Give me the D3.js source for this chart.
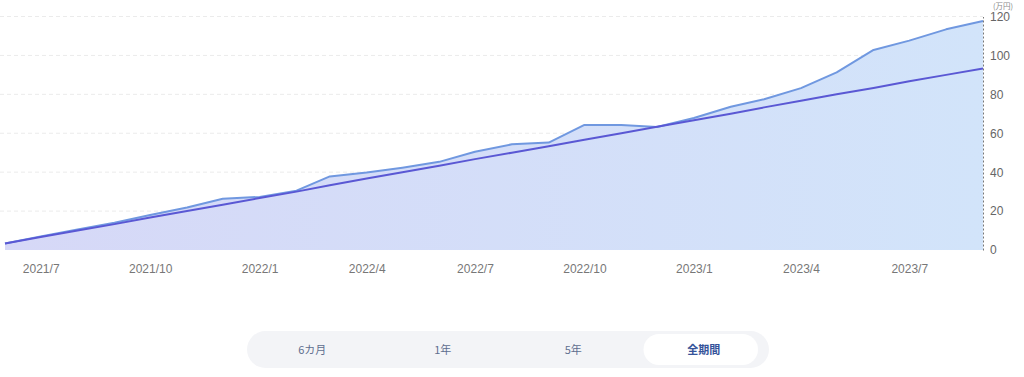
<!DOCTYPE html>
<html>
<head>
<meta charset="utf-8">
<script src="https://cdn.jsdelivr.net/npm/d3@7"></script>
<style>
  body { margin: 0; background: #fff; font-family: "Noto Sans CJK JP", "Noto Sans", sans-serif; }
</style>
</head>
<body>
<div id="chart"></div>
<script>
// Define constants
const WIDTH = 1024;
const HEIGHT = 377;

// Data (万円), monthly from 2021/6 to 2023/9
const months = ["2021-06", "2021-07", "2021-08", "2021-09", "2021-10", "2021-11", "2021-12",
  "2022-01", "2022-02", "2022-03", "2022-04", "2022-05", "2022-06", "2022-07", "2022-08",
  "2022-09", "2022-10", "2022-11", "2022-12", "2023-01", "2023-02", "2023-03", "2023-04",
  "2023-05", "2023-06", "2023-07", "2023-08", "2023-09"];
const valuation = [3.3, 7.0, 10.5, 14.0, 18.0, 21.8, 26.3, 27.3, 30.5, 37.8, 39.8, 42.3, 45.3, 50.5,
  54.3, 55.2, 64.3, 64.3, 63.2, 67.8, 73.6, 77.5, 83.2, 91.3, 102.8, 107.6, 113.4, 117.7];
const invested = [3.3, 6.7, 10.0, 13.3, 16.7, 20.0, 23.3, 26.7, 30.0, 33.3, 36.7, 40.0, 43.3, 46.7,
  50.0, 53.3, 56.7, 60.0, 63.3, 66.7, 70.0, 73.3, 76.7, 80.0, 83.3, 86.7, 90.0, 93.3];
const xTickMonths = ["2021-07", "2021-10", "2022-01", "2022-04", "2022-07", "2022-10", "2023-01", "2023-04", "2023-07"];
const yTicks = [0, 20, 40, 60, 80, 100, 120];
const periods = ["6カ月", "1年", "5年", "全期間"];
const selectedPeriod = "全期間";

const parseMonth = d3.timeParse("%Y-%m");
const dates = months.map(parseMonth);

function drawChart() {
  const svg = d3.select("#chart")
    .append("svg")
    .attr("width", WIDTH)
    .attr("height", HEIGHT);

  const x = d3.scaleTime()
    .domain(d3.extent(dates))
    .range([5, 983]);

  const y = d3.scaleLinear()
    .domain([0, 120])
    .range([250, 16.5]);

  // Gradient for area
  const defs = svg.append("defs");
  const grad = defs.append("linearGradient")
    .attr("id", "areaGrad")
    .attr("x1", "0%").attr("x2", "100%")
    .attr("y1", "0%").attr("y2", "0%");
  grad.append("stop").attr("offset", "0%").attr("stop-color", "#d6d8f7");
  grad.append("stop").attr("offset", "100%").attr("stop-color", "#d2e4fa");

  // Grid lines
  svg.append("g")
    .selectAll("line")
    .data(yTicks.filter(d => d > 0))
    .enter()
    .append("line")
    .attr("x1", 0)
    .attr("x2", 983)
    .attr("y1", d => y(d))
    .attr("y2", d => y(d))
    .attr("stroke", "#ebebeb")
    .attr("stroke-dasharray", "4,3");

  // Area under valuation
  const area = d3.area()
    .x((d, i) => x(dates[i]))
    .y0(y(0))
    .y1(d => y(d));

  svg.append("path")
    .datum(valuation)
    .attr("d", area)
    .attr("fill", "url(#areaGrad)");

  // Valuation line
  const line = d3.line()
    .x((d, i) => x(dates[i]))
    .y(d => y(d));

  svg.append("path")
    .datum(valuation)
    .attr("d", line)
    .attr("fill", "none")
    .attr("stroke", "#7098e0")
    .attr("stroke-width", 2)
    .attr("stroke-linejoin", "round");

  // Invested line
  svg.append("path")
    .datum(invested)
    .attr("d", line)
    .attr("fill", "none")
    .attr("stroke", "#5a58d4")
    .attr("stroke-width", 2)
    .attr("stroke-linejoin", "round");

  // Right axis
  const yAxis = d3.axisRight(y)
    .tickValues(yTicks)
    .tickSize(0)
    .tickPadding(7);

  const yG = svg.append("g")
    .attr("transform", "translate(983,0)")
    .call(yAxis);
  yG.select(".domain")
    .attr("stroke", "#777")
    .attr("stroke-dasharray", "2,2");
  yG.selectAll("text")
    .attr("fill", "#666")
    .style("font-size", "12px")
    .style("font-family", "Helvetica, 'Liberation Sans', Arial, sans-serif");

  // Unit label
  svg.append("text")
    .attr("x", 993)
    .attr("y", 8.5)
    .attr("fill", "#888")
    .style("font-size", "7.5px")
    .text("(万円)");

  // Bottom axis
  const xAxis = d3.axisBottom(x)
    .tickValues(xTickMonths.map(parseMonth))
    .tickFormat(d3.timeFormat("%Y/%-m"))
    .tickSize(0)
    .tickPadding(14);

  const xG = svg.append("g")
    .attr("transform", "translate(0,250)")
    .call(xAxis);
  xG.select(".domain").remove();
  xG.selectAll("text")
    .attr("fill", "#777")
    .style("font-size", "12px")
    .style("font-family", "Helvetica, 'Liberation Sans', Arial, sans-serif");

  // Period selector
  const btnX = d3.scaleBand()
    .domain(periods)
    .range([247, 769]);

  const sel = svg.append("g");
  sel.append("rect")
    .attr("x", 247)
    .attr("y", 331)
    .attr("width", 522)
    .attr("height", 37)
    .attr("rx", 18.5)
    .attr("fill", "#f3f4f7");

  sel.append("rect")
    .attr("x", btnX(selectedPeriod) + 5)
    .attr("y", 334)
    .attr("width", btnX.bandwidth() - 16)
    .attr("height", 31)
    .attr("rx", 15.5)
    .attr("fill", "#ffffff");

  sel.selectAll("text")
    .data(periods)
    .enter()
    .append("text")
    .attr("x", d => btnX(d) + btnX.bandwidth() / 2)
    .attr("y", 351)
    .attr("text-anchor", "middle")
    .attr("dominant-baseline", "middle")
    .attr("fill", d => d === selectedPeriod ? "#35539a" : "#5f6f8f")
    .style("font-size", "11px")
    .style("font-weight", d => d === selectedPeriod ? "bold" : "normal")
    .text(d => d);
}

drawChart();
</script>
</body>
</html>
